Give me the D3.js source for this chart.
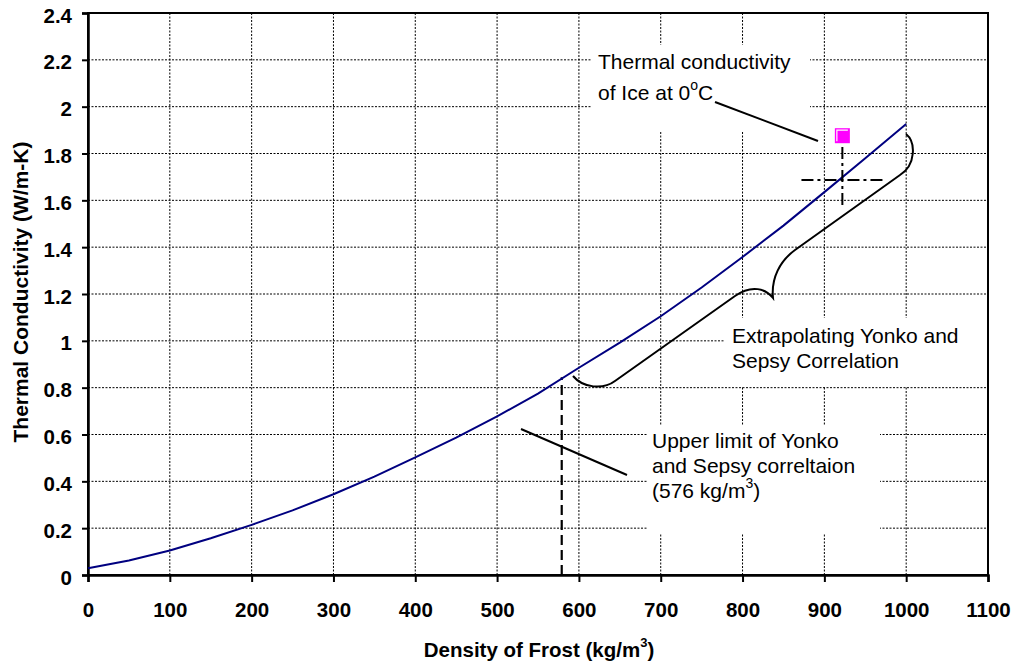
<!DOCTYPE html>
<html><head><meta charset="utf-8">
<script src="https://cdn.jsdelivr.net/npm/d3@7"></script>
<style>body{margin:0;background:#fff}svg{display:block}text{font-family:"Liberation Sans",Arial,sans-serif}</style>
</head><body>
<svg id="c" width="1013" height="663"></svg>
<script>
const densities = [0,50,100,150,200,250,300,350,400,450,500,550,600,650,700,750,800,850,900,950,1000];
const conductivity = [0.029,0.062,0.105,0.157,0.214,0.276,0.345,0.42,0.502,0.587,0.677,0.775,0.885,0.992,1.105,1.228,1.358,1.492,1.635,1.78,1.926];
const xTicks = [0,100,200,300,400,500,600,700,800,900,1000,1100];
const yTicks = [0,0.2,0.4,0.6,0.8,1,1.2,1.4,1.6,1.8,2,2.2,2.4];
const icePoint = {x:922, y:1.876};
const iceError = {x:922, y:1.687, dx:50, dyUp:0.141, dyDown:0.107};
const upperLimit = {x:579, y:0.845};

const svg = d3.select("#c");
const L=88,R=988,T=13,B=575;
const x = d3.scaleLinear().domain([0,1100]).range([L,R]);
const y = d3.scaleLinear().domain([0,2.4]).range([B,T]);
function laX(p){return x.invert(p);}
function laY(p){return y.invert(p);}

// grid
const g = svg.append("g");
g.selectAll(".gx").data(xTicks.slice(1,-1)).enter().append("line")
 .attr("x1",d=>x(d)).attr("x2",d=>x(d)).attr("y1",T).attr("y2",B)
 .attr("stroke","#000").attr("stroke-width",1).attr("stroke-dasharray","2,1.5");
g.selectAll(".gy").data(yTicks.slice(1,-1)).enter().append("line")
 .attr("y1",d=>y(d)).attr("y2",d=>y(d)).attr("x1",L).attr("x2",R)
 .attr("stroke","#000").attr("stroke-width",1).attr("stroke-dasharray","2,1.5");

// white text boxes covering the grid
const boxes = [
 {x0:laX(592),x1:laX(810),y0:laY(45),y1:laY(132)},
 {x0:laX(725),x1:laX(987),y0:laY(318),y1:laY(386)},
 {x0:laX(647),x1:laX(880),y0:laY(425),y1:laY(533)}
];
svg.selectAll(".bx").data(boxes).enter().append("rect")
 .attr("x",d=>x(d.x0)).attr("y",d=>y(d.y0)).attr("width",d=>x(d.x1)-x(d.x0)).attr("height",d=>y(d.y1)-y(d.y0))
 .attr("fill","#fff");

// frame
svg.append("rect").attr("x",L).attr("y",T).attr("width",R-L).attr("height",B-T)
 .attr("fill","none").attr("stroke","#000").attr("stroke-width",2);

// axes
const xa = svg.append("g").attr("transform",`translate(0,${B})`)
 .call(d3.axisBottom(x).tickValues(xTicks).tickSize(7).tickFormat(d3.format("d")));
const ya = svg.append("g").attr("transform",`translate(${L},0)`)
 .call(d3.axisLeft(y).tickValues(yTicks).tickSize(6).tickFormat(d=>String(+d.toFixed(1))));
[xa,ya].forEach(a=>{
 a.select(".domain").attr("stroke","#000").attr("stroke-width",2.5);
 a.selectAll(".tick line").attr("stroke","#000").attr("stroke-width",2);
 a.selectAll(".tick text").attr("fill","#000").attr("font-size","20.5px").attr("font-weight","bold")
  .attr("font-family","'Liberation Sans',Arial,sans-serif");
});
xa.selectAll(".tick text").attr("y",42).attr("dy",0);
ya.selectAll(".tick text").attr("x",-16).attr("dy","9");

// upper limit dashed line
svg.append("line").attr("x1",x(upperLimit.x)).attr("x2",x(upperLimit.x)).attr("y1",y(0)).attr("y2",y(upperLimit.y))
 .attr("stroke","#000").attr("stroke-width",2.2).attr("stroke-dasharray","10,5");

// curve
svg.append("path").datum(densities.map((d,i)=>[d,conductivity[i]]))
 .attr("d",d3.line().x(d=>x(d[0])).y(d=>y(d[1])))
 .attr("fill","none").attr("stroke","#000080").attr("stroke-width",2);

// error bars
const dashDot="12,4,3,4";
svg.append("line").attr("x1",x(iceError.x-iceError.dx)).attr("x2",x(iceError.x+iceError.dx))
 .attr("y1",y(iceError.y)).attr("y2",y(iceError.y)).attr("stroke","#000").attr("stroke-width",2).attr("stroke-dasharray",dashDot);
svg.append("line").attr("x1",x(iceError.x)).attr("x2",x(iceError.x))
 .attr("y1",y(iceError.y+iceError.dyUp)).attr("y2",y(iceError.y-iceError.dyDown)).attr("stroke","#000").attr("stroke-width",2).attr("stroke-dasharray",dashDot);

// ice marker
const mx=x(icePoint.x), my=y(icePoint.y), ms=15;
svg.append("rect").attr("x",mx-ms/2).attr("y",my-ms/2).attr("width",ms).attr("height",ms).attr("fill","#ff00ff");
svg.append("path").attr("d",`M${mx-ms/2+2},${my+ms/2-2}V${my-ms/2+2}H${mx+ms/2-2}`)
 .attr("fill","none").attr("stroke","#fff").attr("stroke-width",1.2);

// leader lines (data coords)
const leaders=[[[laX(715),laY(102)],[laX(818),laY(141)]],[[laX(521),laY(429)],[laX(627),laY(475)]]];
svg.selectAll(".ld").data(leaders).enter().append("line")
 .attr("x1",d=>x(d[0][0])).attr("y1",d=>y(d[0][1])).attr("x2",d=>x(d[1][0])).attr("y2",d=>y(d[1][1]))
 .attr("stroke","#000").attr("stroke-width",2);

// brace
const bracePx=[["M",906,134],["C",916,142,916,165,900,175],["L",795,250],["C",780,261,771,278,773,298],
 ["C",766,289,752,284,735,296],["L",615,381],["C",603,390,583,388,573,376]];
const braceData=bracePx.map(c=>[c[0]].concat(c.slice(1).map((v,i)=>i%2===0?laX(v):laY(v))));
const bp=braceData.map(c=>{const a=c.slice(1);let s=c[0];for(let i=0;i<a.length;i+=2)s+=(i?" ":"")+x(a[i]).toFixed(1)+","+y(a[i+1]).toFixed(1);return s;}).join(" ");
svg.append("path").attr("d",bp).attr("fill","none").attr("stroke","#000").attr("stroke-width",2);

// annotation text
function note(lines,px,py,lh){
 const t=svg.append("text").attr("font-size","21px").attr("fill","#000");
 lines.forEach((ln,i)=>{
  ln.forEach((seg,j)=>{
   const ts=t.append("tspan").text(seg.t);
   if(j===0) ts.attr("x",px).attr("y",py+i*lh);
   if(seg.sup){ts.attr("font-size","14px").attr("dy","-10");}
   if(seg.after){ts.attr("dy","10");}
  });
 });
}
note([[{t:"Thermal conductivity"}],[{t:"of Ice at 0"},{t:"o",sup:1},{t:"C",after:1}]],598,69,31);
note([[{t:"Extrapolating Yonko and"}],[{t:"Sepsy Correlation"}]],732,343,25);
note([[{t:"Upper limit of Yonko"}],[{t:"and Sepsy correltaion"}],[{t:"(576 kg/m"},{t:"3",sup:1},{t:")",after:1}]],652,448,25);

// axis titles
const xt=svg.append("text").attr("x",539).attr("y",657).attr("text-anchor","middle").attr("font-size","20.5px").attr("font-weight","bold");
xt.append("tspan").text("Density of Frost (kg/m");
xt.append("tspan").text("3").attr("font-size","13px").attr("dy","-10");
xt.append("tspan").text(")").attr("dy","10");
svg.append("text").attr("transform","translate(28,292) rotate(-90)").attr("text-anchor","middle")
 .attr("font-size","21px").attr("font-weight","bold").text("Thermal Conductivity (W/m-K)");
</script>
</body></html>
